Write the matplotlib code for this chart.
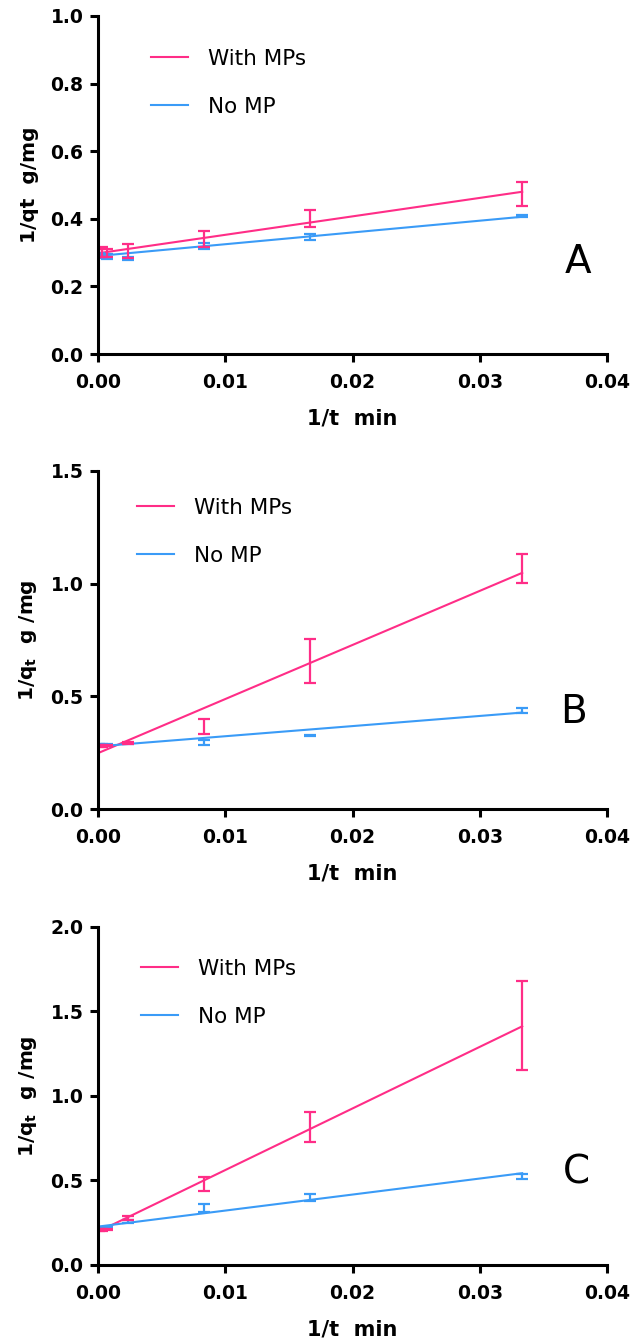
import numpy as np
import matplotlib
matplotlib.use("Agg")
import matplotlib.pyplot as plt

# contact times (min) -> x = 1/t
t_min = np.array([30, 60, 120, 420, 1440, 2880, 10080])
inv_t = 1.0 / t_min

panel_names = ["A", "B", "C"]
series_labels = ["With MPs", "No MP"]

# mean 1/qt and error (SD)
mps_A = [0.473, 0.401, 0.340, 0.305, 0.300, 0.302, 0.298]
mps_A_err = [0.036, 0.025, 0.023, 0.020, 0.012, 0.015, 0.012]
nomp_A = [0.408, 0.346, 0.320, 0.283, 0.288, 0.290, 0.292]
nomp_A_err = [0.004, 0.008, 0.008, 0.005, 0.008, 0.006, 0.006]

mps_B = [1.067, 0.657, 0.365, 0.292, 0.282, 0.280, 0.280]
mps_B_err = [0.066, 0.096, 0.033, 0.004, 0.004, 0.004, 0.004]
nomp_B = [0.436, 0.326, 0.295, 0.292, 0.285, 0.285, 0.285]
nomp_B_err = [0.011, 0.004, 0.010, 0.003, 0.005, 0.005, 0.005]

mps_C = [1.415, 0.815, 0.479, 0.280, 0.210, 0.207, 0.205]
mps_C_err = [0.264, 0.088, 0.040, 0.012, 0.005, 0.005, 0.005]
nomp_C = [0.523, 0.399, 0.338, 0.257, 0.218, 0.216, 0.215]
nomp_C_err = [0.016, 0.020, 0.022, 0.010, 0.005, 0.005, 0.005]

# linear fits (intercept, slope)
fit_mps = [(0.298, 5.46), (0.248, 24.0), (0.197, 36.45)]
fit_nomp = [(0.290, 3.48), (0.278, 4.5), (0.227, 9.48)]

y_max = [1.0, 1.5, 2.0]
y_step = [0.2, 0.5, 0.5]
y_labels = ["1/qt  g/mg", r"1/q$_\mathbf{t}$  g /mg", r"1/q$_\mathbf{t}$  g /mg"]

pink = "#FF2D87"
blue = "#3A9BF7"

data = [
    (mps_A, mps_A_err, nomp_A, nomp_A_err),
    (mps_B, mps_B_err, nomp_B, nomp_B_err),
    (mps_C, mps_C_err, nomp_C, nomp_C_err),
]

fig = plt.figure(figsize=(6.31, 13.43), dpi=100)
bottoms = [0.7364, 0.3976, 0.0581]
legend_pos = [(0.104, 0.903), (0.077, 0.921), (0.084, 0.906)]
letter_pos = [(0.943, 0.272), (0.935, 0.288), (0.94, 0.275)]

for i, name in enumerate(panel_names):
    ax = fig.add_axes([0.1553, bottoms[i], 0.8067, 0.2517])
    y1, e1, y2, e2 = data[i]
    xfit = np.array([0.0, inv_t.max()])

    l1, = ax.plot(xfit, fit_mps[i][0] + fit_mps[i][1] * xfit, color=pink, lw=1.5, label=series_labels[0])
    l2, = ax.plot(xfit, fit_nomp[i][0] + fit_nomp[i][1] * xfit, color=blue, lw=1.5, label=series_labels[1])
    ax.errorbar(inv_t, y2, yerr=e2, fmt="none", ecolor=blue, elinewidth=1.6, capsize=4, capthick=1.6)
    ax.errorbar(inv_t, y1, yerr=e1, fmt="none", ecolor=pink, elinewidth=1.6, capsize=4, capthick=1.6)

    ax.set_xlim(0, 0.04)
    ax.set_ylim(0, y_max[i])
    ax.set_xticks(np.arange(0, 0.0401, 0.01))
    ax.set_xticklabels([f"{v:.2f}" for v in np.arange(0, 0.0401, 0.01)])
    yt = np.arange(0, y_max[i] + 1e-9, y_step[i])
    ax.set_yticks(yt)
    ax.set_yticklabels([f"{v:.1f}" for v in yt])
    for lbl in ax.get_xticklabels() + ax.get_yticklabels():
        lbl.set_fontweight("bold")

    for s in ["top", "right"]:
        ax.spines[s].set_visible(False)
    for s in ["left", "bottom"]:
        ax.spines[s].set_linewidth(2.2)
    ax.tick_params(direction="out", length=5.5, width=2.2, labelsize=13.5)
    ax.tick_params(axis="x", pad=8)
    ax.tick_params(axis="y", pad=5)

    ax.set_xlabel("1/t  min", fontsize=15, fontweight="bold")
    ax.xaxis.set_label_coords(0.5, -0.16)
    ax.set_ylabel(y_labels[i], fontsize=14.5, fontweight="bold")
    ax.yaxis.set_label_coords(-0.116, 0.5)

    ax.legend(handles=[l1, l2], loc="upper left", bbox_to_anchor=legend_pos[i],
              frameon=False, fontsize=15.5, handlelength=1.72, handletextpad=0.93,
              labelspacing=1.3, borderpad=0, borderaxespad=0)

    ax.text(letter_pos[i][0], letter_pos[i][1], name, transform=ax.transAxes,
            fontsize=28, ha="center", va="center")

fig.savefig("out.png", dpi=100)
